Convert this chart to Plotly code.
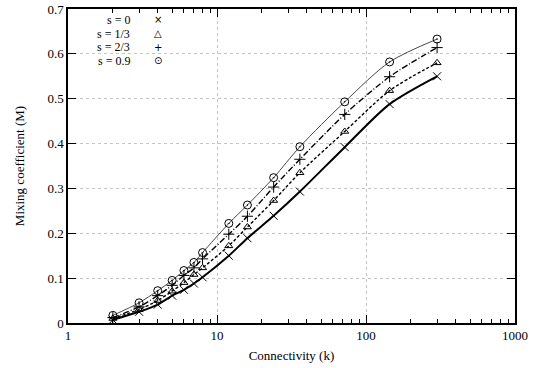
import plotly.graph_objects as go

k = [2, 3, 4, 5, 6, 7, 8, 12, 16, 24, 36, 72, 144, 300]
m_s0 = [0.007, 0.025, 0.041, 0.061, 0.074, 0.088, 0.102, 0.150, 0.189, 0.239, 0.293, 0.392, 0.488, 0.550]
m_s13 = [0.010, 0.030, 0.050, 0.071, 0.090, 0.108, 0.123, 0.172, 0.214, 0.273, 0.335, 0.427, 0.518, 0.580]
m_s23 = [0.012, 0.036, 0.061, 0.084, 0.106, 0.123, 0.143, 0.198, 0.238, 0.303, 0.365, 0.465, 0.549, 0.614]
m_s09 = [0.017, 0.045, 0.072, 0.095, 0.117, 0.135, 0.157, 0.222, 0.263, 0.324, 0.393, 0.493, 0.582, 0.633]

labels = ["s = 0", "s = 1/3", "s = 2/3", "s = 0.9"]
legend_glyphs = ["\u00d7", "\u25b3", "+", "\u2299"]
x_tickvals = [1, 10, 100, 1000]
x_ticktext = ["1", "10", "100", "1000"]

series = [m_s0, m_s13, m_s23, m_s09]
line_styles = [
    dict(color="black", width=2, dash="solid"),
    dict(color="black", width=1.4, dash="3px,2px"),
    dict(color="black", width=1.4, dash="6px,2px,1px,2px"),
    dict(color="#333333", width=0.9, dash="solid"),
]
symbols = ["x-thin-open", "triangle-up-open", "cross-thin-open", "circle-open-dot"]
sizes = [8, 7, 8, 8]

FONT = "Liberation Serif"
fig = go.Figure()
for ys, ls, sym, sz, lab in zip(series, line_styles, symbols, sizes, labels):
    fig.add_trace(go.Scatter(x=k, y=ys, mode="lines", line=dict(shape="spline", smoothing=0.8, **ls),
                             showlegend=False, hoverinfo="skip"))
    fig.add_trace(go.Scatter(x=k, y=ys, mode="markers", name=lab,
                             marker=dict(symbol=sym, size=sz, color="black", line=dict(width=1, color="black")),
                             showlegend=False))

# legend box background (hides grid like gnuplot key)
fig.add_shape(type="rect", xref="paper", yref="paper", x0=0.0157, x1=0.264, y0=0.815, y1=0.99,
              fillcolor="white", line=dict(width=0), layer="between")
row_y = [0.965, 0.9215, 0.878, 0.8345]
for lab, gl, yy in zip(labels, legend_glyphs, row_y):
    fig.add_annotation(xref="paper", yref="paper", x=0.141, y=yy, xanchor="right", yanchor="middle",
                       text=lab, showarrow=False, borderpad=0,
                       font=dict(family=FONT, size=12, color="black"))
    fig.add_annotation(xref="paper", yref="paper", x=0.201, y=yy, xanchor="center", yanchor="middle",
                       text=gl, showarrow=False, borderpad=0,
                       font=dict(family="DejaVu Sans", size=10, color="black"))

fig.update_layout(
    width=534, height=368,
    margin=dict(l=68, r=19, t=9, b=45, autoexpand=False),
    paper_bgcolor="white", plot_bgcolor="white",
    font=dict(family=FONT, size=13, color="black"),
    showlegend=False,
)
fig.update_xaxes(
    type="log", range=[0, 3], tickvals=x_tickvals, ticktext=x_ticktext,
    ticks="inside", ticklen=8, tickcolor="black", tickwidth=1,
    minor=dict(ticks="inside", ticklen=4, tickcolor="black", showgrid=False,
               tickvals=[2, 3, 4, 5, 6, 7, 8, 9, 20, 30, 40, 50, 60, 70, 80, 90, 200, 300, 400, 500, 600, 700, 800, 900]),
    showline=True, linecolor="black", linewidth=1.5, mirror="ticks",
    showgrid=True, gridcolor="#c4c4c4", griddash="dot", gridwidth=1,
    title=dict(text="Connectivity (k)", font=dict(family=FONT, size=13), standoff=9),
    tickfont=dict(family=FONT, size=13), zeroline=False, automargin=False,
    ticklabeloverflow="allow",
)
fig.update_yaxes(
    range=[0, 0.7], dtick=0.1, tick0=0,
    ticks="inside", ticklen=8, tickcolor="black", tickwidth=1,
    showline=True, linecolor="black", linewidth=1.5, mirror="ticks",
    showgrid=True, gridcolor="#c4c4c4", griddash="dot", gridwidth=1,
    title=dict(text="Mixing coefficient (M)", font=dict(family=FONT, size=13), standoff=20),
    tickfont=dict(family=FONT, size=13), zeroline=False, automargin=False,
    ticklabeloverflow="allow",
)
fig.write_html("out.html", config={"displayModeBar": False},
               post_script="document.body.style.margin='0';")
